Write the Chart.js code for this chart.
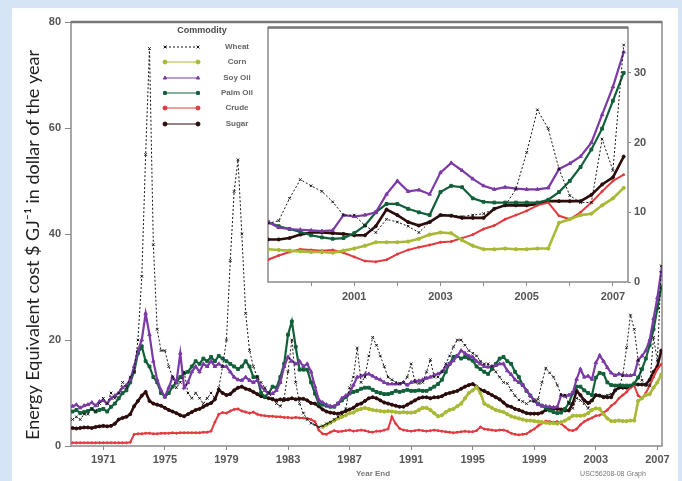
<!DOCTYPE html>
<html lang="en">
<head>
<meta charset="UTF-8" />
<title>Energy equivalent cost of commodities</title>
<script src="https://cdn.jsdelivr.net/npm/chart.js"></script>
<style>
  html, body { margin: 0; padding: 0; }
  body { width: 682px; height: 481px; background: #d5e5f5; position: relative; overflow: hidden; }
  #panel { position: absolute; left: 12px; top: 8px; width: 666px; height: 473px; background: #fff; }
  #mainChart { position: absolute; left: 0; top: 0; }
  #insetChart { position: absolute; left: 262px; top: 18px; }
</style>
</head>
<body>
<div id="panel"></div>
<canvas id="mainChart" width="682" height="481"></canvas>
<canvas id="insetChart" width="400" height="292"></canvas>

<script>
  // quarterly time grid, 1969.0 .. 2007.25
  const quarters = [];
  for (let i = 0; i < 154; i++) quarters.push(1969 + i / 4);

  const commodities = ['Wheat', 'Corn', 'Soy Oil', 'Palm Oil', 'Crude', 'Sugar'];
  const mainXTicks = [1971, 1975, 1979, 1983, 1987, 1991, 1995, 1999, 2003, 2007];
  const mainYTicks = [0, 20, 40, 60, 80];
  const insetXTicks = [2000, 2001, 2002, 2003, 2004, 2005, 2006, 2007];
  const insetYTicks = [0, 10, 20, 30];

  // $/GJ, one value per quarter
  const wheat = [
    5, 5.5, 5, 6,   6, 7, 6.5, 8,   9, 8, 10, 9,   10, 12, 11, 13,
    14, 20, 32, 55,   75, 38, 22, 18,   18, 15, 13, 11,   12, 14, 10, 9,
    10, 9, 8, 9,   10, 9, 11, 15,   20, 35, 48, 54,   40, 25, 18, 15,
    13, 12, 11, 10,   9, 8, 7.5, 9,   14, 20, 12, 8,   6.2, 5, 4.3, 4,
    3.6, 3.8, 4.2, 4.5,   5, 5.5, 6, 7,   11, 13, 18.5, 12,   13, 17, 20.5, 19,
    17, 15, 13, 12.5,   12, 11.8, 12, 13,   15.5, 12, 11.8, 12,   14, 16.3, 13, 13,
    14, 15.5, 17, 18.7,   20, 20, 19, 18,   17.5, 17, 16, 15.5,   15.5, 15, 14, 13,
    12, 11.8, 10.5, 9.5,   8.7, 8.4, 8, 8.5,   8.4, 8.8, 12, 14.7,   13.8, 13, 11.5, 9.6,
    9.6, 8.1, 7.1, 9,   8.6, 8, 7.1, 8.6,   9.6, 9.6, 9.4, 9.6,   9.8, 10.5, 11, 13.3,
    18.6, 24.7, 22, 16.2,   12.4, 11.4, 11.4, 20.5,   16, 34
  ];
  const cornStart = 65; // first corn quarter: 1985.25
  const corn = [
    3.6, 4, 4.4,
    4.8, 5.2, 5.5, 5.8,   6.2, 6.3, 6.8, 7,   7.2, 7, 6.8, 6.7,   6.6, 6.5, 6.6, 6.5,
    6.4, 6.3, 6.4, 6.3,   6.3, 6.4, 6.8, 7.2,   7.2, 6.8, 6.2, 5.6,   5.8, 6.4, 6.8, 7,
    7.5, 8, 9, 10,   10.5, 11.1, 10, 8,   7.6, 7.2, 6.8, 6.6,   6.4, 6, 5.6, 5.4,
    5.2, 5, 4.8, 4.8,   4.7, 4.6, 4.5, 4.4,   4.3, 4.3, 4.2, 4.5,   4.8, 5.2, 5.7, 5.7,
    5.7, 5.8, 6.2, 6.8,   7.1, 7, 6, 5.2,   4.7, 4.7, 4.8, 4.7,   4.7, 4.8, 4.8, 8.5,
    9, 9.6, 9.8, 11,   12, 13.5
  ];
  const soyOil = [
    7.5, 7.8, 7.2, 7.6,   7.8, 8.2, 7.6, 8.4,   8.6, 8, 9, 9.5,   10, 11, 11.5, 12.5,
    15, 18, 20, 25,   21, 16, 12.5, 10.5,   9.3, 11, 13, 12,   17.5, 11, 12, 14,
    15, 14, 15.5, 15,   16, 15, 15.5, 15,   15, 14, 13, 12.5,   12.4, 13, 12.4, 12,
    12.4, 11.2, 10.5, 9.9,   9.9, 10.5, 12, 15,   16.8, 16, 15.5, 16,   15, 15.5, 14, 11.2,
    8.7, 8.2, 7.8, 7.5,   7.5, 8, 9, 9.5,   10, 11.5, 13, 13.2,   13.5, 13.6, 13.2, 12.8,
    12.5, 12, 11.7, 11.7,   11.7, 11.7, 12, 11.5,   12, 12.3, 12.3, 12.5,   12.8, 13, 13.4, 13.6,
    14, 15, 15.5, 16.1,   17, 18, 17.5, 17,   16.8, 16, 15.5, 15,   14.9, 15, 15.2, 15.5,
    15.5, 14.2, 13.5, 12.5,   12, 11.5, 10.5, 9.5,   8.6, 7.8, 7.6, 7.5,   7.4, 7.3, 7.4, 9.6,
    9.4, 9.6, 10, 12.6,   14.5, 13, 13.2, 12.6,   15.7, 17.1, 16, 14.8,   13.8, 13.3, 13.6, 13.4,
    13.3, 13.3, 13.5, 16.2,   17, 18, 20, 24,   28, 33
  ];
  const palmOil = [
    6.5, 6.8, 6.2, 6.4,   6.6, 7, 6.5, 6.8,   7, 6.5, 7.4, 8,   9, 10, 10.5, 12,
    14, 17.5, 18.8, 16,   15, 13, 12, 10,   9.3, 10, 11.2, 12,   13, 13.7, 14, 15,
    16, 15.5, 16.5, 16,   16.8, 16, 17, 16.5,   16, 15.5, 15, 14.5,   15, 16, 15, 13,
    13, 10, 9.3, 10,   11.2, 11, 13, 15.5,   21, 23.5, 18.7, 14.4,   14.4, 14.4, 12, 9.9,
    8, 7.8, 7.6, 7.4,   7.4, 8, 8.6, 9.2,   9.9, 10.2, 10.4, 10.8,   11, 11, 10.6, 10.2,
    10, 9.8, 9.8, 10,   10.4, 10.2, 10.4, 10.6,   10.4, 10.4, 10.5, 10.4,   10.4, 10.8, 11.2, 11.7,
    12.5, 14, 15.5, 16.8,   17, 16.5, 16.8, 16.5,   16.1, 15, 14.5, 14,   13.6, 14.5, 15.5, 16.5,
    16.8, 16, 15.5, 14,   13, 11.5, 10.4, 9.5,   8.6, 8, 7.6, 7.2,   6.7, 6.4, 6.2, 6.3,
    7, 8.1, 10, 11.2,   11.2, 10.5, 10, 9.6,   12.9, 13.8, 13.6, 12,   11.5, 11.4, 11.4, 11.4,
    11.4, 11.4, 11.8, 12.9,   14.5, 16.5, 19, 22,   26, 30
  ];
  const crude = [
    0.6, 0.6, 0.6, 0.6,   0.6, 0.6, 0.6, 0.6,   0.6, 0.6, 0.6, 0.6,   0.6, 0.6, 0.6, 0.7,
    2.2, 2.3, 2.3, 2.4,   2.4, 2.3, 2.3, 2.4,   2.4, 2.4, 2.5, 2.4,   2.5, 2.5, 2.5, 2.5,
    2.5, 2.5, 2.6, 2.6,   2.8, 4.5, 6, 6.3,   6.2, 6.6, 6.9, 7,   6.6, 6.4, 6.2, 6.4,
    6, 5.8, 5.7, 5.6,   5.6, 5.5, 5.5, 5.4,   5.4, 5.3, 5.4, 5.3,   5.3, 5.2, 5, 4.6,
    3, 2.3, 2.2, 2.6,   2.9, 2.7, 2.8, 2.9,   3, 2.8, 2.9, 3,   2.9, 2.7, 2.6, 2.8,
    2.8, 3, 3.2, 5.5,   4.2, 3.3, 3, 2.9,   2.8, 2.9, 3, 2.9,   2.8, 2.9, 3, 2.9,
    2.8, 2.7, 2.6, 2.5,   2.6, 2.7, 2.8, 2.7,   2.7, 2.9, 3.6, 3.2,   3.1, 3, 2.9, 3,
    3, 2.8, 2.4, 2.2,   2.1, 2.2, 2.3, 2.8,   3.2, 3.8, 4.3, 4.7,   4.6, 4.5, 4.6, 4.2,
    3.6, 3, 2.9, 3.2,   4, 4.6, 5, 5.3,   5.7, 5.8, 6.3, 6.8,   7.6, 8.1, 9, 9.6,
    10.2, 11, 11.4, 9.5,   9, 10, 11.4, 13,   14.5, 15.4
  ];
  const sugar = [
    3.4, 3.3, 3.4, 3.5,   3.5, 3.4, 3.6, 3.7,   3.8, 3.7, 3.8, 4.2,   5, 5.3, 5.5, 6,
    7.5, 8.5, 9.5, 10.2,   8.5, 8, 7.8, 7.6,   7.2, 6.8, 6.5, 6.2,   5.8, 5.6, 6, 6.4,
    6.8, 7, 7.4, 7.8,   8.1, 8.8, 10.6, 10,   9.6, 9.8, 10.5, 11,   11.2, 10.8, 10.6, 10.2,
    9.8, 9.4, 9.2, 9,   8.8, 8.6, 8.8, 8.7,   8.8, 9, 8.8, 8.9,   8.9, 8.6, 8.1, 8,
    7.5, 6.9, 6.5, 6.3,   6.2, 6.1, 6.3, 6.6,   6.9, 7.2, 7.8, 8,   8.5, 9, 9.2, 9,
    8.6, 8.2, 8, 7.8,   7.6, 7.4, 7.4, 7.8,   8.2, 8.6, 9, 9.2,   9.2, 9, 9.2, 9.2,
    9.4, 9.8, 10, 10.2,   10.4, 10.8, 11.2, 11.5,   11.7, 11.2, 10.6, 10.4,   10, 9.6, 9.2, 8.8,
    8.2, 7.6, 7.4, 7,   6.8, 6.5, 6.2, 6.1,   6.1, 6.1, 6.3, 6.8,   7.1, 7.1, 7, 6.9,
    6.7, 6.7, 8, 10.4,   9.6, 8.6, 8.1, 8.6,   9.6, 9.5, 9.2, 9.2,   9.2, 10.5, 11, 11,
    11, 11.2, 11.6, 11.6,   11.6, 11.6, 12.5, 14,   15, 18
  ];

  const seriesValues = [wheat, corn, soyOil, palmOil, crude, sugar];
  const seriesStart = [0, cornStart, 0, 0, 0, 0];

  // look of each line, in legend order
  const looks = [
    { color: '#151515', width: 1, dash: [2, 2], point: 'crossRot', radius: 1.8 },
    { color: '#a9b935', width: 2.6, dash: [], point: 'circle', radius: 1.6 },
    { color: '#7b3aa6', width: 2.2, dash: [], point: 'triangle', radius: 2 },
    { color: '#11603a', width: 2.2, dash: [], point: 'rect', radius: 2 },
    { color: '#e23a3f', width: 2, dash: [], point: 'circle', radius: 1 },
    { color: '#2c0b0b', width: 2.6, dash: [], point: 'circle', radius: 1.5 }
  ];

  function makeDatasets(fromYear) {
    return commodities.map((name, k) => {
      const pts = [];
      seriesValues[k].forEach((v, i) => {
        const x = quarters[seriesStart[k] + i];
        if (x >= fromYear) pts.push({ x: x, y: v });
      });
      const lk = looks[k];
      return {
        label: name,
        data: pts,
        borderColor: lk.color,
        backgroundColor: lk.color,
        borderWidth: lk.width,
        borderDash: lk.dash,
        pointStyle: lk.point,
        pointRadius: lk.radius,
        pointBorderWidth: 1,
        pointBackgroundColor: lk.color,
        pointBorderColor: lk.color,
        tension: 0,
        fill: false
      };
    });
  }

  const tickFont = { family: 'Liberation Sans', size: 11, weight: 'bold' };
  const tickColor = '#555';

  const framePlugin = {
    id: 'frame',
    beforeDraw(chart, args, opts) {
      const a = chart.chartArea, ctx = chart.ctx;
      ctx.save();
      if (opts.fill) {
        ctx.fillStyle = opts.fill;
        ctx.fillRect(a.left, a.top, a.right - a.left, a.bottom - a.top);
      }
      ctx.restore();
    },
    beforeDatasetsDraw(chart) {
      const a = chart.chartArea, ctx = chart.ctx;
      ctx.save();
      ctx.strokeStyle = '#8a8a8a';
      ctx.lineWidth = 1.5;
      ctx.strokeRect(a.left, a.top, a.right - a.left, a.bottom - a.top);
      ctx.strokeStyle = '#777';
      ctx.lineWidth = 2.5;
      ctx.beginPath();
      ctx.moveTo(a.left, a.top);
      ctx.lineTo(a.right, a.top);
      ctx.stroke();
      ctx.restore();
    }
  };

  const legendPlugin = {
    id: 'commodityLegend',
    afterDatasetsDraw(chart) {
      const ctx = chart.ctx;
      const rows = [47, 62, 78, 93, 108, 124];
      ctx.save();
      ctx.fillStyle = '#4a4a4a';
      ctx.font = 'bold 9px "Liberation Sans"';
      ctx.textAlign = 'center';
      ctx.textBaseline = 'middle';
      ctx.fillText('Commodity', 202, 31);
      ctx.font = 'bold 8px "Liberation Sans"';
      ctx.fillStyle = '#666';
      chart.data.datasets.forEach((ds, i) => {
        const y = rows[i];
        ctx.strokeStyle = ds.borderColor;
        ctx.lineWidth = 1;
        ctx.setLineDash(ds.borderDash.length ? [2, 2] : []);
        ctx.beginPath();
        ctx.moveTo(165, y);
        ctx.lineTo(198, y);
        ctx.stroke();
        ctx.setLineDash([]);
        ctx.fillStyle = ds.borderColor;
        Chart.helpers.drawPoint(ctx, { pointStyle: ds.pointStyle, rotation: 0, radius: 2, borderWidth: 1 }, 165, y);
        Chart.helpers.drawPoint(ctx, { pointStyle: ds.pointStyle, rotation: 0, radius: 2, borderWidth: 1 }, 198, y);
        ctx.fillStyle = '#666';
        ctx.fillText(ds.label, 237, y);
      });
      ctx.restore();
    }
  };

  const textPlugin = {
    id: 'pageText',
    afterDraw(chart) {
      const ctx = chart.ctx;
      ctx.save();
      ctx.fillStyle = '#222';
      ctx.font = '18px Lato';
      ctx.textAlign = 'center';
      ctx.textBaseline = 'middle';
      ctx.translate(33, 245);
      ctx.rotate(-Math.PI / 2);
      ctx.fillText('Energy Equivalent cost $ GJ\u207B\u00B9 in dollar of the year', 0, 0);
      ctx.restore();
      ctx.save();
      ctx.fillStyle = '#777';
      ctx.font = 'bold 8px "Liberation Sans"';
      ctx.textAlign = 'center';
      ctx.textBaseline = 'middle';
      ctx.fillText('Year End', 373, 474);
      ctx.font = '7px "Liberation Sans"';
      ctx.fillText('USC56208-08 Graph', 613, 474);
      ctx.restore();
    }
  };

  new Chart(document.getElementById('mainChart'), {
    type: 'line',
    data: { datasets: makeDatasets(0) },
    options: {
      responsive: false,
      animation: false,
      layout: { padding: { left: 0, right: 20, top: 22, bottom: 0 } },
      plugins: { legend: { display: false }, tooltip: { enabled: false } },
      scales: {
        x: {
          type: 'linear',
          min: 1968.9,
          max: 2007.3,
          afterBuildTicks: s => { s.ticks = mainXTicks.map(v => ({ value: v })); },
          afterFit: s => { s.height = 35; },
          ticks: { callback: v => String(v), font: tickFont, color: tickColor, padding: 3, maxRotation: 0, autoSkip: false },
          grid: { drawOnChartArea: false, tickLength: 4, color: '#888' },
          border: { display: false }
        },
        y: {
          min: 0,
          max: 80,
          afterBuildTicks: s => { s.ticks = mainYTicks.map(v => ({ value: v })); },
          afterFit: s => { s.width = 71; },
          ticks: { font: tickFont, color: tickColor, padding: 4 },
          grid: { drawOnChartArea: false, tickLength: 6, color: '#888' },
          border: { display: false }
        }
      }
    },
    plugins: [framePlugin, legendPlugin, textPlugin]
  });

  new Chart(document.getElementById('insetChart'), {
    type: 'line',
    data: { datasets: makeDatasets(1999) },
    options: {
      responsive: false,
      animation: false,
      layout: { padding: { left: 6, right: 0, top: 6, bottom: 0 } },
      plugins: { legend: { display: false }, tooltip: { enabled: false }, frame: { fill: '#fff' } },
      scales: {
        x: {
          type: 'linear',
          min: 1999,
          max: 2007.35,
          afterBuildTicks: s => { s.ticks = insetXTicks.map(v => ({ value: v })); },
          afterFit: s => { s.height = 28; },
          ticks: { callback: v => (v % 2 === 1 ? String(v) : ''), font: tickFont, color: tickColor, padding: 4, maxRotation: 0, autoSkip: false },
          grid: { drawOnChartArea: false, tickLength: 4, color: '#888' },
          border: { display: false }
        },
        y: {
          position: 'right',
          min: 0,
          max: 36.5,
          afterBuildTicks: s => { s.ticks = insetYTicks.map(v => ({ value: v })); },
          afterFit: s => { s.width = 34; },
          ticks: { font: tickFont, color: tickColor, padding: 3 },
          grid: { drawOnChartArea: false, tickLength: 3, color: '#888' },
          border: { display: false }
        }
      }
    },
    plugins: [framePlugin]
  });
</script>
</body>
</html>
